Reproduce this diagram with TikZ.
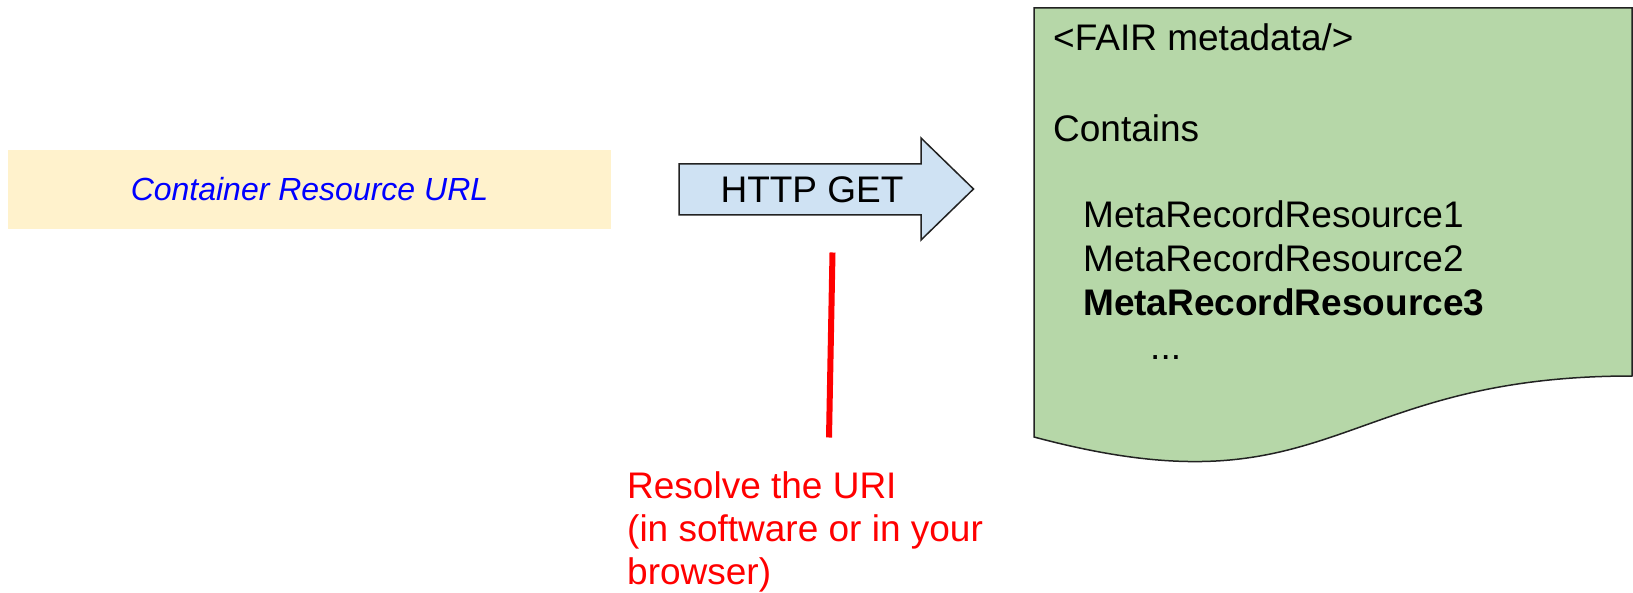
\documentclass[tikz,border=0pt]{standalone}
\usepackage{fontspec}
\setmainfont{Liberation Sans}
\definecolor{urlfill}{HTML}{FFF2CC}
\definecolor{getfill}{HTML}{CFE2F3}
\definecolor{docfill}{HTML}{B6D7A8}
\definecolor{docline}{HTML}{222222}
\begin{document}
\begin{tikzpicture}[x=1pt,y=-1pt,
  body/.style={font=\fontsize{37}{43}\selectfont},
  doctext/.style={body,anchor=base west,inner sep=0pt},
  outline/.style={draw=docline,line width=1.5pt,line join=miter}]
\useasboundingbox (0,0) rectangle (1633,593);

% the resource URL
\node[fill=urlfill,minimum width=603pt,minimum height=79pt,inner sep=0pt,
      text=blue,font=\fontsize{32}{38}\selectfont\itshape]
  (url) at (309.5,189.5) {Container Resource URL};

% the request arrow
\draw[outline,fill=getfill]
  (679,164) -- (921,164) -- (921,138) -- (973.5,189) -- (921,240)
  -- (921,215) -- (679,215) -- cycle;
\node[body,inner sep=0pt] (get) at (812,189.5) {HTTP GET};

% the returned document
\draw[outline,fill=docfill]
  (1034,8) -- (1632,8) -- (1632,376)
  .. controls (1333,376) and (1333,517) .. (1034,437) -- cycle;
\node[doctext] (fair) at (1053,51) {<FAIR metadata/>};
\node[doctext] (contains) at (1053,142) {Contains};
\node[doctext] (rec1) at (1083,228) {MetaRecordResource1};
\node[doctext] (rec2) at (1083,272) {MetaRecordResource2};
\node[doctext,font=\fontsize{37}{43}\selectfont\bfseries] (rec3) at (1083,316) {MetaRecordResource3};
\node[doctext] (dots) at (1150,360) {...};

% the note
\coordinate (notetop) at (832.5,252.5);
\coordinate (notebot) at (829,437.5);
\draw[red,line width=6pt] (notetop) -- (notebot);
\node[body,text=red,align=left,anchor=base west,inner sep=0pt] (note) at (627,584)
  {Resolve the URI\\(in software or in your\\browser)};
\end{tikzpicture}
\end{document}
